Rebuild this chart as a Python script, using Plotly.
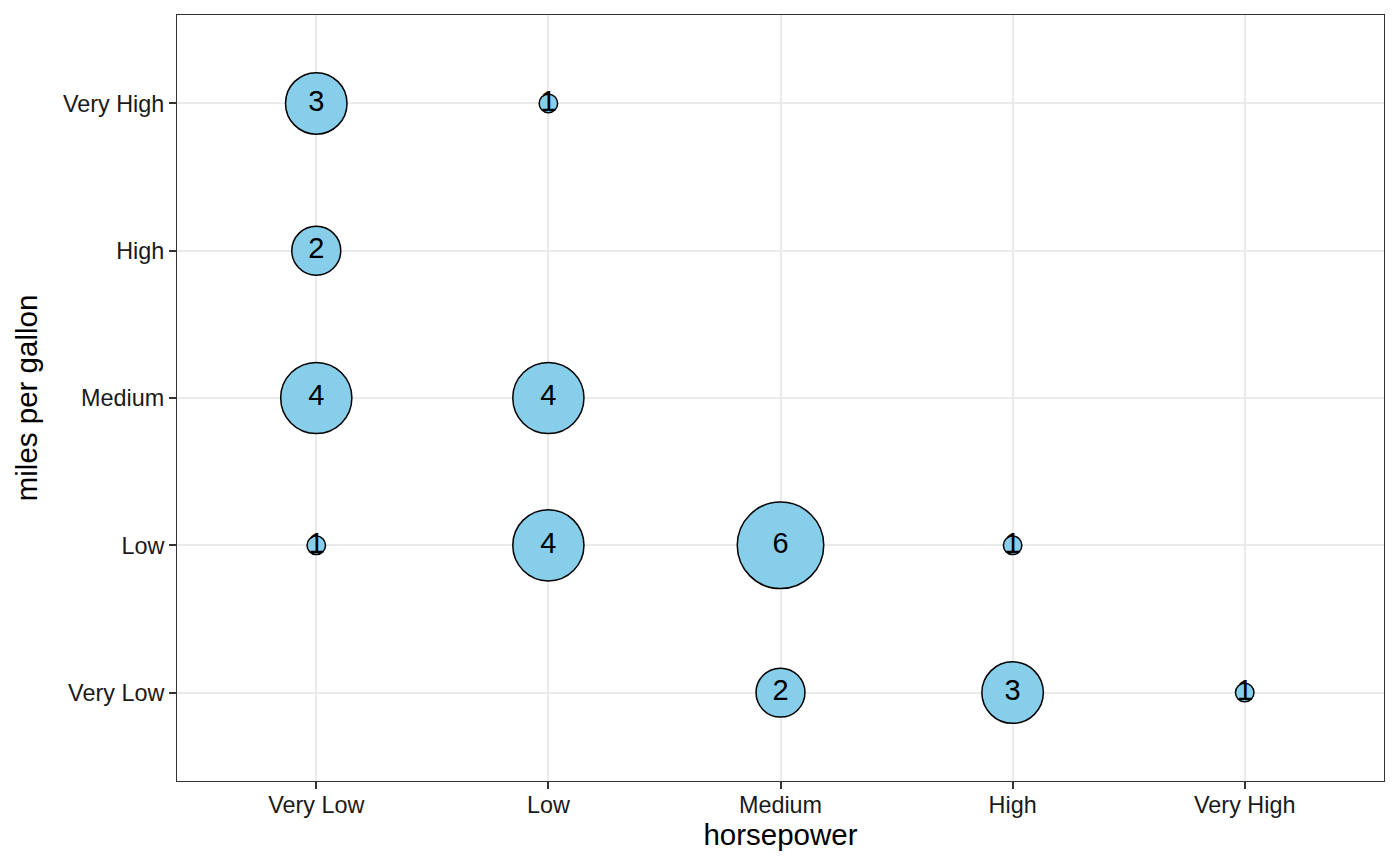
import plotly.graph_objects as go
import numpy as np

# Data (mtcars: horsepower vs mpg, binned counts)
hp_levels = ["Very Low", "Low", "Medium", "High", "Very High"]
mpg_levels = ["Very Low", "Low", "Medium", "High", "Very High"]
hp = ["Very Low", "Very Low", "Very Low", "Very Low",
      "Low", "Low", "Low",
      "Medium", "Medium",
      "High", "High",
      "Very High"]
mpg = ["Very High", "High", "Medium", "Low",
       "Very High", "Medium", "Low",
       "Low", "Very Low",
       "Low", "Very Low",
       "Very Low"]
counts = [3, 2, 4, 1, 1, 4, 4, 6, 2, 1, 3, 1]

# ggplot-like area scale: diameter ~ sqrt(rescaled count)
c = np.array(counts, dtype=float)
dmin, dmax = 18.5, 86.5
sizes = dmin + (dmax - dmin) * np.sqrt((c - c.min()) / (c.max() - c.min()))

FONT = "Liberation Sans, Arial, Helvetica, sans-serif"

fig = go.Figure()
fig.add_trace(go.Scatter(
    x=hp, y=mpg, mode="markers+text",
    text=[str(v) for v in counts],
    textposition="middle center",
    textfont=dict(family=FONT, size=29, color="black"),
    marker=dict(size=sizes, sizemode="diameter", color="#87CEEB",
                line=dict(color="black", width=1.5), opacity=1),
    showlegend=False, hoverinfo="skip", cliponaxis=False,
))

axis_common = dict(
    type="category",
    showgrid=True, gridcolor="#EBEBEB", gridwidth=2,
    zeroline=False,
    showline=True, linecolor="#333333", linewidth=1, mirror=True,
    ticks="outside", ticklen=7, tickwidth=2, tickcolor="#333333",
    tickfont=dict(family=FONT, size=23.4, color="#1a1a1a"),
)

fig.update_xaxes(**axis_common, categoryorder="array", categoryarray=hp_levels,
                 range=[-0.6, 4.6], ticklabelstandoff=-4,
                 title=dict(text="horsepower", standoff=5,
                            font=dict(family=FONT, size=29.5, color="black")))
fig.update_yaxes(**axis_common, categoryorder="array", categoryarray=mpg_levels,
                 range=[-0.6, 4.6],
                 title=dict(text="miles per gallon", standoff=16,
                            font=dict(family=FONT, size=29.5, color="black")))

# page body has an 8px default margin; compensate so the panel sits at 177..1384 x 15..781
fig.update_layout(
    width=1400, height=866,
    margin=dict(l=169, r=24, t=7, b=93, autoexpand=False),
    plot_bgcolor="white", paper_bgcolor="white",
    font=dict(family=FONT),
)

fig.write_html("out.html")
